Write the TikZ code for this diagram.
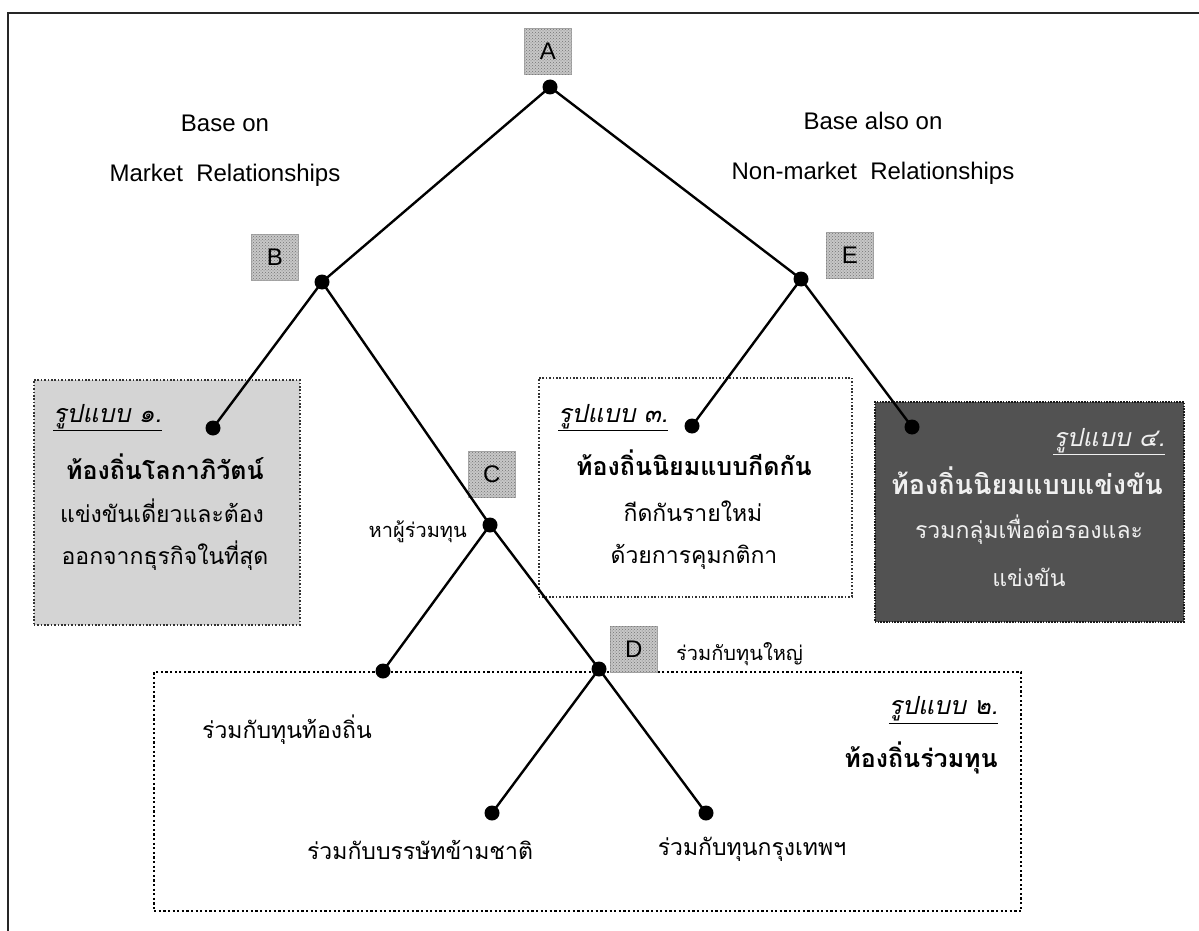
\documentclass[tikz,border=0pt]{standalone}
\usepackage{fontspec}
\setmainfont{Liberation Sans}
\newfontfamily\thai[Script=Thai]{Loma}
\usetikzlibrary{patterns}
\tikzset{
  en/.style={font=\fontsize{24}{28}\selectfont, inner sep=0pt},
  thn/.style={font=\thai\fontsize{23}{28}\selectfont, inner sep=0pt},
  ths/.style={font=\thai\fontsize{20}{24}\selectfont, inner sep=0pt},
  thb/.style={font=\thai\bfseries\fontsize{25}{30}\selectfont, inner sep=0pt},
  thbig/.style={font=\thai\bfseries\fontsize{27}{32}\selectfont, inner sep=0pt},
  thsub/.style={font=\thai\itshape\fontsize{25}{30}\selectfont, inner sep=0pt},
  lbl/.style={fill=black!22, draw=black!35, line width=0.6pt, minimum width=47pt, minimum height=46pt, inner sep=0pt, font=\fontsize{24}{26}\selectfont, anchor=north west, postaction={pattern=crosshatch dots, pattern color=black!55}},
  dotn/.style={circle, fill=black, inner sep=0pt, minimum size=15pt},
  conn/.style={line width=2.4pt, black},
  lightbox/.style={draw=black!80, fill=black!17, line width=1.6pt, dash pattern=on 1.6pt off 1.8pt, anchor=north west, inner sep=0pt},
  whitebox/.style={draw=black!80, fill=white, line width=1.6pt, dash pattern=on 1.6pt off 1.8pt, anchor=north west, inner sep=0pt},
  darkbox/.style={draw=black!90, fill=black!68, line width=1.6pt, dash pattern=on 1.6pt off 1.2pt, anchor=north west, inner sep=0pt},
  bigbox/.style={draw=black, line width=2.2pt, dash pattern=on 2.2pt off 2.4pt, anchor=north west, inner sep=0pt},
}
\begin{document}
\begin{tikzpicture}[x=1pt,y=-1pt]
\useasboundingbox (0,0) rectangle (1199,931);
\fill[white] (0,0) rectangle (1199,931);
% outer frame (top and left only)
\coordinate (ftr) at (1199,13);
\coordinate (ftl) at (8,13);
\coordinate (fbl) at (8,931);
\draw[line width=2pt, black!85] (ftr) -- (ftl) -- (fbl);

% boxes
\node[lightbox, minimum width=266pt, minimum height=245pt] (box1) at (33,379) {};
\node[whitebox, minimum width=313pt, minimum height=219pt] (box3) at (538,377) {};
\node[darkbox, minimum width=309pt, minimum height=220pt] (box4) at (874,401) {};
\node[bigbox, minimum width=867pt, minimum height=239pt] (box2) at (153,671) {};

% labels
\node[lbl] (la) at (524,28) {A};
\node[lbl] (lb) at (251,234) {B};
\node[lbl] (le) at (826,232) {E};
\node[lbl] (lc) at (468,451) {C};
\node[lbl] (ld) at (610,626) {D};

% points
\coordinate (pa) at (550,87);
\coordinate (pb) at (322,282);
\coordinate (pe) at (801,279);
\coordinate (p1) at (213,428);
\coordinate (pc) at (490,525);
\coordinate (p3) at (692,426);
\coordinate (p4) at (912,427);
\coordinate (pl) at (383,671);
\coordinate (pd) at (599,669);
\coordinate (pm) at (492,813);
\coordinate (pk) at (706,813);

% connectors
\draw[conn] (pa) -- (pb);
\draw[conn] (pa) -- (pe);
\draw[conn] (pb) -- (p1);
\draw[conn] (pb) -- (pc);
\draw[conn] (pc) -- (pl);
\draw[conn] (pc) -- (pd);
\draw[conn] (pd) -- (pm);
\draw[conn] (pd) -- (pk);
\draw[conn] (pe) -- (p3);
\draw[conn] (pe) -- (p4);

% dots
\foreach \p in {pa,pb,pe,p1,pc,p3,p4,pl,pd,pm,pk}
  \node[dotn] (d\p) at (\p) {};

% english texts
\node[en] (t1) at (225,123) {Base on};
\node[en] (t2) at (225,175) {Market~~Relationships};
\node[en] (t3) at (873,121) {Base also on};
\node[en] (t4) at (873,173) {Non-market~~Relationships};

% box 1
\node[thsub, anchor=west] (s1) at (53,418) {\underline{รูปแบบ ๑.}};
\node[thb] (h1) at (165,467) {ท้องถิ่นโลกาภิวัตน์};
\node[thn] (h1a) at (162,511) {แข่งขันเดี่ยวและต้อง};
\node[thn] (h1b) at (165,556) {ออกจากธุรกิจในที่สุด};

% box 3
\node[thsub, anchor=west] (s3) at (558,418) {\underline{รูปแบบ ๓.}};
\node[thb] (h3) at (694,463) {ท้องถิ่นนิยมแบบกีดกัน};
\node[thn] (h3a) at (693,511) {กีดกันรายใหม่};
\node[thn] (h3b) at (694,557) {ด้วยการคุมกติกา};

% box 4
\node[thsub, anchor=east, text=black!6] (s4) at (1165,442) {\underline{รูปแบบ ๔.}};
\node[thbig, text=black!6] (h4) at (1027,481) {ท้องถิ่นนิยมแบบแข่งขัน};
\node[thn, text=black!6] (h4a) at (1029,530) {รวมกลุ่มเพื่อต่อรองและ};
\node[thn, text=black!6] (h4b) at (1029,577) {แข่งขัน};

% box 2 and tree texts
\node[ths, anchor=east] (tc) at (467,532) {หาผู้ร่วมทุน};
\node[ths, anchor=west] (td) at (676,654) {ร่วมกับทุนใหญ่};
\node[thsub, anchor=east] (s2) at (998,710) {\underline{รูปแบบ ๒.}};
\node[thb, anchor=east] (h2) at (998,758) {ท้องถิ่นร่วมทุน};
\node[thn] (tl) at (287,730) {ร่วมกับทุนท้องถิ่น};
\node[thn] (tm) at (420,850) {ร่วมกับบรรษัทข้ามชาติ};
\node[thn] (tk) at (752,849) {ร่วมกับทุนกรุงเทพฯ};
\end{tikzpicture}
\end{document}
